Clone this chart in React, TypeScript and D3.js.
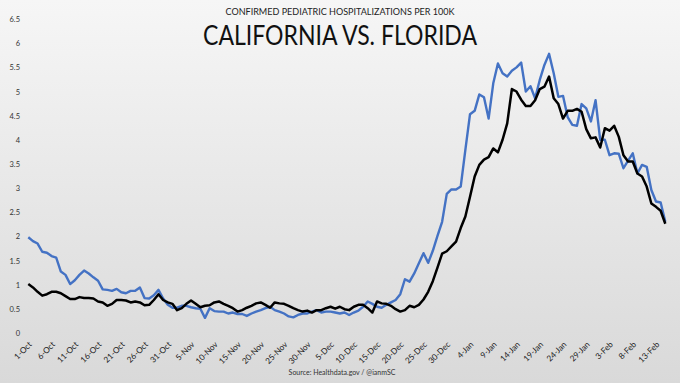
import React from "react";
import * as d3 from "d3";

const californiaValues = [
  1.99, 1.91, 1.86, 1.69, 1.67, 1.6, 1.57, 1.28, 1.21, 1.02, 1.1, 1.21, 1.3, 1.24, 1.16, 1.09, 0.91, 0.9, 0.88, 0.92,
  0.85, 0.83, 0.88, 0.88, 0.95, 0.73, 0.72, 0.79, 0.9, 0.72, 0.59, 0.53, 0.53, 0.57, 0.57, 0.54, 0.52, 0.51, 0.32, 0.52,
  0.46, 0.45, 0.45, 0.41, 0.43, 0.4, 0.4, 0.36, 0.41, 0.45, 0.48, 0.52, 0.55, 0.48, 0.45, 0.41, 0.35, 0.33, 0.38, 0.41,
  0.41, 0.45, 0.48, 0.43, 0.45, 0.45, 0.43, 0.41, 0.43, 0.38, 0.43, 0.47, 0.55, 0.66, 0.61, 0.55, 0.53, 0.59, 0.64, 0.69,
  0.81, 1.12, 1.07, 1.24, 1.45, 1.66, 1.46, 1.71, 2.02, 2.31, 2.89, 2.98, 2.98, 3.04, 3.8, 4.54, 4.61, 4.95, 4.89, 4.45,
  5.18, 5.59, 5.39, 5.32, 5.44, 5.51, 5.61, 5.01, 5.12, 4.87, 5.25, 5.56, 5.79, 5.39, 4.9, 4.92, 4.48, 4.32, 4.3, 4.75,
  4.66, 4.39, 4.83, 4.01, 4.01, 3.69, 3.73, 3.72, 3.42, 3.58, 3.73, 3.31, 3.49, 3.45, 2.97, 2.73, 2.71, 2.31,
];

const floridaValues = [
  1.02, 0.95, 0.86, 0.78, 0.81, 0.86, 0.86, 0.83, 0.77, 0.71, 0.71, 0.75, 0.73, 0.73, 0.72, 0.66, 0.64, 0.57, 0.61, 0.69,
  0.69, 0.68, 0.64, 0.66, 0.64, 0.58, 0.59, 0.69, 0.81, 0.69, 0.64, 0.61, 0.48, 0.52, 0.61, 0.68, 0.61, 0.54, 0.57, 0.58,
  0.64, 0.66, 0.61, 0.57, 0.52, 0.45, 0.48, 0.53, 0.57, 0.62, 0.64, 0.59, 0.53, 0.64, 0.62, 0.61, 0.57, 0.52, 0.48, 0.45,
  0.47, 0.43, 0.48, 0.48, 0.52, 0.55, 0.51, 0.55, 0.5, 0.48, 0.55, 0.59, 0.59, 0.52, 0.43, 0.66, 0.62, 0.61, 0.57, 0.5,
  0.45, 0.48, 0.57, 0.54, 0.59, 0.7, 0.86, 1.08, 1.36, 1.65, 1.7, 1.8, 1.9, 2.18, 2.42, 2.83, 3.25, 3.49, 3.6, 3.65,
  3.83, 3.75, 4.01, 4.35, 5.06, 5.01, 4.84, 4.71, 4.71, 4.83, 5.06, 5.11, 5.32, 4.87, 4.75, 4.45, 4.61, 4.61, 4.65, 4.59,
  4.23, 4.04, 4.06, 3.85, 4.25, 4.2, 4.3, 4.07, 3.69, 3.56, 3.56, 3.31, 3.25, 3.04, 2.69, 2.62, 2.54, 2.27,
];

const xTickLabels = [
  "1-Oct", "6-Oct", "11-Oct", "16-Oct", "21-Oct", "26-Oct", "31-Oct", "5-Nov", "10-Nov", "15-Nov",
  "20-Nov", "25-Nov", "30-Nov", "5-Dec", "10-Dec", "15-Dec", "20-Dec", "25-Dec", "30-Dec", "4-Jan",
  "9-Jan", "14-Jan", "19-Jan", "24-Jan", "29-Jan", "3-Feb", "8-Feb", "13-Feb",
];
const xTickStep = 5;
const yTicks = [0, 0.5, 1, 1.5, 2, 2.5, 3, 3.5, 4, 4.5, 5, 5.5, 6, 6.5];

const subtitle = "CONFIRMED PEDIATRIC HOSPITALIZATIONS PER 100K";
const title = "CALIFORNIA VS. FLORIDA";
const source = "Source: Healthdata.gov / @ianmSC";

const W = 680;
const H = 383;
const FONT = "Lato, 'Open Sans', sans-serif";

export default function App() {
  const n = californiaValues.length;
  const x = d3.scaleLinear().domain([0, n - 1]).range([28.3, 665.3]);
  const y = d3.scaleLinear().domain([0, 6.5]).range([333.3, 19.6]);
  const line = d3
    .line<number>()
    .x((_, i) => x(i))
    .y((d) => y(d));

  return (
    <svg
      width={W}
      height={H}
      style={{ position: "absolute", left: 0, top: 0, fontFamily: FONT }}
    >
      <defs>
        <linearGradient id="bg" x1="0" y1="0" x2="0" y2="1">
          <stop offset="0%" stopColor="#f6f6f6" />
          <stop offset="100%" stopColor="#d9d9d9" />
        </linearGradient>
      </defs>
      <rect x={0} y={0} width={W} height={H} fill="url(#bg)" />

      <text
        x={340}
        y={15}
        textAnchor="middle"
        fontSize={9.5}
        fill="#222"
        textLength={229}
        lengthAdjust="spacingAndGlyphs"
      >
        {subtitle}
      </text>
      <text
        x={340}
        y={45}
        textAnchor="middle"
        fontSize={26}
        fill="#111"
        textLength={274}
        lengthAdjust="spacingAndGlyphs"
      >
        {title}
      </text>

      {yTicks.map((t) => (
        <text
          key={t}
          x={20}
          y={y(t)}
          dy="0.35em"
          textAnchor="end"
          fontSize={7.5}
          fill="#333"
        >
          {d3.format("~g")(t)}
        </text>
      ))}

      {xTickLabels.map((lab, k) => {
        const px = x(k * xTickStep) + 2;
        const py = 343;
        return (
          <text
            key={lab}
            transform={`translate(${px},${py}) rotate(-45)`}
            textAnchor="end"
            fontSize={8.2}
            fill="#222"
            dy="0.35em"
          >
            {lab}
          </text>
        );
      })}

      <path
        d={line(californiaValues) || ""}
        fill="none"
        stroke="#4472C4"
        strokeWidth={2.4}
        strokeLinejoin="round"
      />
      <path
        d={line(floridaValues) || ""}
        fill="none"
        stroke="#000"
        strokeWidth={2.5}
        strokeLinejoin="round"
      />

      <text x={342} y={375} textAnchor="middle" fontSize={7} fill="#333">
        {source}
      </text>
    </svg>
  );
}
